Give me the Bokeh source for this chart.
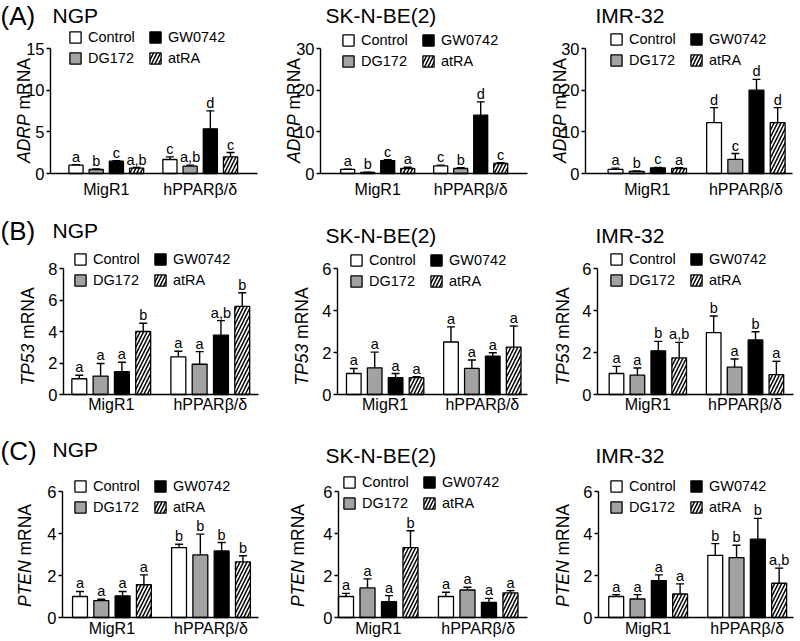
from bokeh.plotting import figure
from bokeh.models import (ColumnDataSource, Whisker, TeeHead, Label, Legend, LegendItem,
                          FixedTicker, Range1d)
from bokeh.layouts import column, row
from bokeh.embed import file_html
from bokeh.resources import INLINE
from bokeh.core.properties import value

# ---------------- data ----------------
groups = ["MigR1", "hPPARβ/δ"]
treatments = ["Control", "DG172", "GW0742", "atRA"]
cell_lines = ["NGP", "SK-N-BE(2)", "IMR-32"]
panel_tags = ["(A)", "(B)", "(C)"]
genes = ["ADRP", "TP53", "PTEN"]

# order: MigR1 (Control, DG172, GW0742, atRA), hPPARβ/δ (Control, DG172, GW0742, atRA)
adrp_ngp_mean = [1.0, 0.48, 1.48, 0.64, 1.68, 0.88, 5.36, 2.0]
adrp_ngp_sd = [0.06, 0.08, 0.05, 0.08, 0.32, 0.12, 2.16, 0.52]
adrp_ngp_sig = ["a", "b", "c", "a,b", "c", "a,b", "d", "c"]
adrp_sk_mean = [1.0, 0.28, 3.1, 1.2, 1.85, 1.2, 14.0, 2.4]
adrp_sk_sd = [0.05, 0.05, 0.2, 0.3, 0.15, 0.2, 3.2, 0.2]
adrp_sk_sig = ["a", "b", "c", "a", "c", "b", "d", "c"]
adrp_imr_mean = [1.0, 0.5, 1.36, 1.2, 12.2, 3.4, 20.0, 12.2]
adrp_imr_sd = [0.3, 0.1, 0.1, 0.2, 3.6, 1.4, 2.6, 3.6]
adrp_imr_sig = ["a", "b", "c", "a", "d", "c", "d", "d"]

tp53_ngp_mean = [1.0, 1.17, 1.45, 4.0, 2.39, 1.92, 3.77, 5.59]
tp53_ngp_sd = [0.22, 0.8, 0.6, 0.52, 0.36, 0.8, 0.92, 0.87]
tp53_ngp_sig = ["a", "a", "a", "b", "a", "a", "a,b", "b"]
tp53_sk_mean = [1.0, 1.27, 0.8, 0.8, 2.5, 1.24, 1.83, 2.26]
tp53_sk_sd = [0.24, 0.75, 0.2, 0.05, 0.72, 0.4, 0.16, 1.0]
tp53_sk_sig = ["a", "a", "a", "a", "a", "a", "a", "a"]
tp53_imr_mean = [1.0, 0.92, 2.08, 1.74, 2.95, 1.3, 2.6, 0.95]
tp53_imr_sd = [0.34, 0.34, 0.45, 0.74, 0.79, 0.39, 0.39, 0.63]
tp53_imr_sig = ["a", "a", "b", "a,b", "b", "a", "b", "a"]

pten_ngp_mean = [1.0, 0.8, 1.03, 1.56, 3.33, 2.98, 3.17, 2.65]
pten_ngp_sd = [0.24, 0.07, 0.21, 0.47, 0.16, 0.99, 0.4, 0.29]
pten_ngp_sig = ["a", "a", "a", "a", "b", "b", "b", "b"]
pten_sk_mean = [1.0, 1.41, 0.75, 3.33, 1.0, 1.31, 0.72, 1.17]
pten_sk_sd = [0.15, 0.43, 0.29, 0.8, 0.2, 0.13, 0.19, 0.11]
pten_sk_sig = ["a", "a", "a", "b", "a", "a", "a", "a"]
pten_imr_mean = [1.0, 0.88, 1.76, 1.12, 2.96, 2.85, 3.73, 1.63]
pten_imr_sd = [0.09, 0.21, 0.27, 0.48, 0.56, 0.59, 0.99, 0.72]
pten_imr_sig = ["a", "a", "a", "a", "b", "b", "b", "a,b"]

ticks_adrp_ngp = [0, 5, 10, 15]
ticks_adrp_other = [0, 10, 20, 30]
ticks_tp53_ngp = [0, 2, 4, 6, 8]
ticks_small = [0, 2, 4, 6]

DATA = {
    ("ADRP", "NGP"): (adrp_ngp_mean, adrp_ngp_sd, adrp_ngp_sig, ticks_adrp_ngp),
    ("ADRP", "SK-N-BE(2)"): (adrp_sk_mean, adrp_sk_sd, adrp_sk_sig, ticks_adrp_other),
    ("ADRP", "IMR-32"): (adrp_imr_mean, adrp_imr_sd, adrp_imr_sig, ticks_adrp_other),
    ("TP53", "NGP"): (tp53_ngp_mean, tp53_ngp_sd, tp53_ngp_sig, ticks_tp53_ngp),
    ("TP53", "SK-N-BE(2)"): (tp53_sk_mean, tp53_sk_sd, tp53_sk_sig, ticks_small),
    ("TP53", "IMR-32"): (tp53_imr_mean, tp53_imr_sd, tp53_imr_sig, ticks_small),
    ("PTEN", "NGP"): (pten_ngp_mean, pten_ngp_sd, pten_ngp_sig, ticks_small),
    ("PTEN", "SK-N-BE(2)"): (pten_sk_mean, pten_sk_sd, pten_sk_sig, ticks_small),
    ("PTEN", "IMR-32"): (pten_imr_mean, pten_imr_sd, pten_imr_sig, ticks_small),
}

# ---------------- styles / layout (pixel geometry) ----------------
FONT = "Liberation Sans"
FILL = {"Control": "white", "DG172": "#a2a2a2", "GW0742": "black", "atRA": "white"}
HATCH = {"Control": None, "DG172": None, "GW0742": None, "atRA": "/"}
GROUP_STEP = 4.65
BAR_W = 0.7

COL_X = [0, 270, 535]
COL_W = [270, 265, 264]
ROW_Y = [0, 200, 420]
ROW_H = [200, 220, 220]
FRAME_LEFT = [[50, 320, 585], [63, 337, 597], [62, 338, 598]]
FRAME_RIGHT = [[257, 527, 792], [258, 527, 793], [258, 527, 793]]
AXIS_Y = [173, 394, 617]
TICK_TOP_Y = [48, 268, 491]
PPU = [[20.2, 20.0, 21.2], [21.3, 20.9, 20.9], [21.3, 21.5, 21.3]]
PAD = [[25.5, 27.2, 30.0], [15.8, 16.3, 19.0], [17.5, 7.5, 17.7]]
XLAB_STANDOFF = [7, 1, 2]
TAG_Y = [15, 230, 450]
NAME_X = [52, 325, 595]
NAME_Y = [[15, 15, 15], [229.5, 235, 234.5], [449, 455, 454.5]]
LEG_XY = [[(68, 33), (341, 36), (609, 35)],
          [(73, 255), (349, 256), (609, 255)],
          [(73, 482), (342, 478), (609, 482)]]
YLAB_X = [[23.5, 293, 559], [27.5, 301, 562], [24, 297, 562.5]]
YLAB_Y = [110, 336, 555]
YLAB_FS = 17.5
GENE_W = {"ADRP": 2.778, "TP53": 2.390, "PTEN": 2.667}  # em widths
MRNA_W = 3.222  # " mRNA" em width


def make_panel(r, c):
    gene, cl = genes[r], cell_lines[c]
    mean, sd, sig, ticks = DATA[(gene, cl)]
    fl, fr = FRAME_LEFT[r][c], FRAME_RIGHT[r][c]
    y0, yt = AXIS_Y[r], TICK_TOP_Y[r]
    cx, cw, ry, rh = COL_X[c], COL_W[c], ROW_Y[r], ROW_H[r]
    ppu, pad = PPU[r][c], PAD[r][c]
    top_tick = ticks[-1]
    upp = top_tick / (y0 - yt)           # y data units per pixel
    x_fl = -pad / ppu                   # data x at the y-axis
    x_fr = x_fl + (fr - fl) / ppu       # data x at right end of x-axis
    x_start = x_fl - (fl - cx) / ppu
    x_end = x_fl + (cx + cw - fl) / ppu
    y_start = -(ry + rh - y0) * upp
    y_end = (y0 - ry) * upp

    def sx(px):
        return px - cx

    def sy(py):
        return (ry + rh) - py

    p = figure(width=cw, height=rh, x_range=Range1d(x_start, x_end),
               y_range=Range1d(y_start, y_end), output_backend="svg",
               toolbar_location=None, title=None, min_border=0,
               min_border_left=0, min_border_right=0, min_border_top=0, min_border_bottom=0)
    p.outline_line_color = None
    p.xgrid.visible = False
    p.ygrid.visible = False
    p.background_fill_color = "white"
    p.border_fill_color = "white"

    centers = [g * GROUP_STEP + 1.5 for g in range(len(groups))]
    xa = p.xaxis[0]
    xa.fixed_location = 0
    xa.bounds = (x_fl, x_fr)
    xa.ticker = FixedTicker(ticks=centers)
    xa.major_label_overrides = {centers[g]: groups[g] for g in range(len(groups))}
    xa.major_tick_line_color = None
    xa.major_tick_out = 0
    xa.major_tick_in = 0
    xa.minor_tick_line_color = None
    xa.major_label_standoff = XLAB_STANDOFF[r]
    xa.major_label_text_font = FONT
    xa.major_label_text_font_size = "16px"
    xa.major_label_text_color = "black"
    xa.axis_line_color = "black"
    xa.axis_line_width = 1.4

    ya = p.yaxis[0]
    ya.fixed_location = x_fl
    ya.ticker = FixedTicker(ticks=ticks)
    ya.bounds = (0, top_tick)
    ya.major_tick_out = 4
    ya.major_tick_in = 0
    ya.minor_tick_line_color = None
    ya.major_label_standoff = 2
    ya.major_label_text_font = FONT
    ya.major_label_text_font_size = "16.5px"
    ya.major_label_text_color = "black"
    ya.axis_line_color = "black"
    ya.axis_line_width = 1.4
    ya.major_tick_line_width = 1.4

    xs_all, tops_all = [], []
    for g in range(len(groups)):
        for i in range(len(treatments)):
            xs_all.append(g * GROUP_STEP + i)
            tops_all.append(mean[g * 4 + i] + sd[g * 4 + i])
    src_all = ColumnDataSource(dict(x=xs_all, mean=mean, top=tops_all, sig=sig))

    whisk = Whisker(source=src_all, base="x", lower="mean", upper="top", dimension="height",
                    line_color="black", line_width=1.4, level="underlay",
                    upper_head=TeeHead(size=8, line_width=1.4, line_color="black"),
                    lower_head=None)
    p.add_layout(whisk)

    renderers = {}
    for i, t in enumerate(treatments):
        src = ColumnDataSource(dict(x=[g * GROUP_STEP + i for g in range(len(groups))],
                                    top=[mean[g * 4 + i] for g in range(len(groups))]))
        kw = {}
        if HATCH[t]:
            kw = dict(hatch_pattern=HATCH[t], hatch_color="black", hatch_scale=7,
                      hatch_weight=1.5)
        renderers[t] = p.vbar(x="x", top="top", width=BAR_W, bottom=0, source=src,
                              fill_color=FILL[t], line_color="black", line_width=1.3, **kw)

    p.text(x="x", y="top", text="sig", source=src_all, text_align="center",
           text_baseline="alphabetic", y_offset=-8, text_font=value(FONT),
           text_font_size="14.5px", text_color="black")

    # legend (2 columns)
    lx, ly = LEG_XY[r][c]
    leg_h = 14 * 2 + 5
    legend = Legend(items=[LegendItem(label=t, renderers=[renderers[t]]) for t in treatments],
                    location=(sx(lx), sy(ly + leg_h)), ncols=2,
                    glyph_width=14, glyph_height=14, label_height=14, label_width=55,
                    label_standoff=6, spacing=5, padding=0, margin=0,
                    border_line_color=None, background_fill_alpha=0,
                    label_text_font=FONT, label_text_font_size="14.5px",
                    label_text_color="black", label_text_baseline="middle")
    p.add_layout(legend)

    # titles
    if c == 0:
        p.add_layout(Label(x=sx(0), y=sy(TAG_Y[r]), x_units="screen", y_units="screen",
                           text=panel_tags[r], text_font=FONT, text_font_size="26px",
                           text_baseline="middle", text_align="left", text_color="black"))
    p.add_layout(Label(x=sx(NAME_X[c]), y=sy(NAME_Y[r][c]), x_units="screen", y_units="screen",
                       text=cl, text_font=FONT, text_font_size="21px",
                       text_baseline="middle", text_align="left", text_color="black"))

    # y axis label: italic gene name + " mRNA" (reads bottom to top)
    tot = (GENE_W[gene] + MRNA_W) * YLAB_FS
    y_begin = sy(YLAB_Y[r]) - tot / 2
    xlab = sx(YLAB_X[r][c])
    p.add_layout(Label(x=xlab, y=y_begin, x_units="screen", y_units="screen", angle=1.5707963,
                       text=gene, text_font=FONT, text_font_style="italic",
                       text_font_size=f"{YLAB_FS}px", text_align="left",
                       text_baseline="middle", text_color="black"))
    p.add_layout(Label(x=xlab, y=y_begin + (GENE_W[gene] + 0.278) * YLAB_FS,
                       x_units="screen", y_units="screen", angle=1.5707963,
                       text="mRNA", text_font=FONT, text_font_size=f"{YLAB_FS}px",
                       text_align="left", text_baseline="middle", text_color="black"))
    return p


rows = [row(*[make_panel(r, c) for c in range(3)]) for r in range(3)]
layout = column(*rows)
open("out.html", "w").write(file_html(layout, INLINE))
